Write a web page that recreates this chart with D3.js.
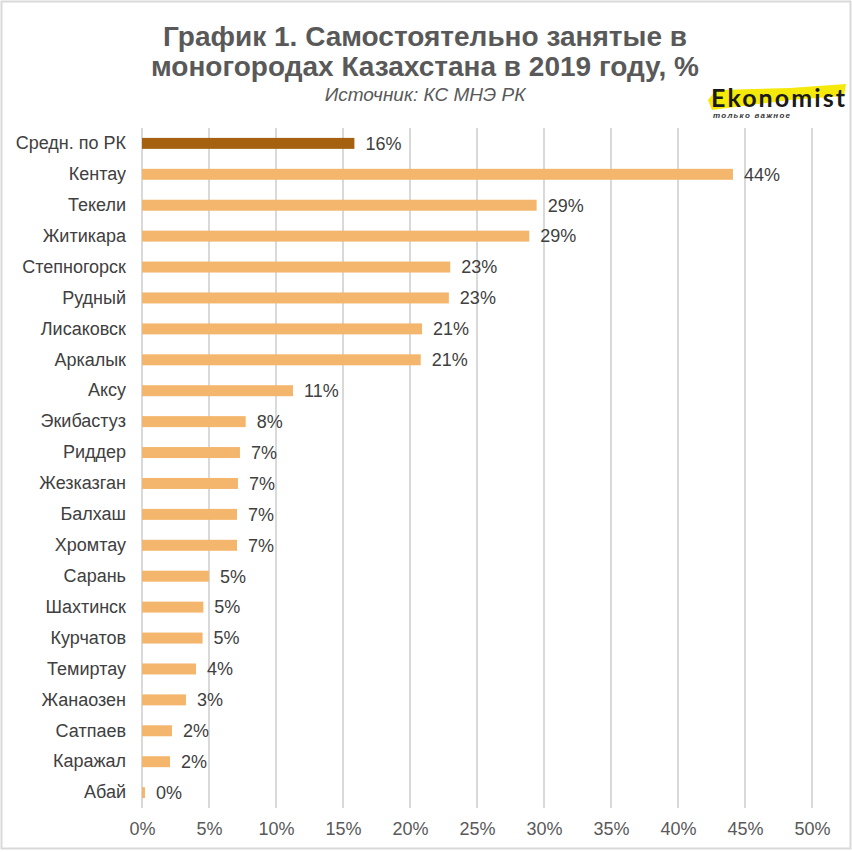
<!DOCTYPE html>
<html><head><meta charset="utf-8">
<script src="https://cdn.jsdelivr.net/npm/d3@7"></script>
<style>body{margin:0;background:#fff;font-family:"Liberation Sans",Arial,sans-serif;}</style>
</head><body>
<svg id="chart" width="852" height="852"></svg>
<script>
const categories = ["Средн. по РК","Кентау","Текели","Житикара","Степногорск","Рудный","Лисаковск","Аркалык","Аксу","Экибастуз","Риддер","Жезказган","Балхаш","Хромтау","Сарань","Шахтинск","Курчатов","Темиртау","Жанаозен","Сатпаев","Каражал","Абай"];
const values = [15.85,44.1,29.45,28.9,23.0,22.9,20.9,20.8,11.27,7.74,7.31,7.16,7.09,7.09,5.0,4.58,4.52,4.03,3.28,2.24,2.09,0.22];
const tickValues = [0,5,10,15,20,25,30,35,40,45,50];
const title = ["График 1. Самостоятельно занятые в","моногородах Казахстана в 2019 году, %"];
const subtitle = "Источник: КС МНЭ РК";

const svg = d3.select("#chart");
svg.append("rect").attr("x",1.5).attr("y",1.5).attr("width",849).attr("height",847)
  .attr("fill","#fff").attr("stroke","#d9d9d9").attr("stroke-width",2);

const x = d3.scaleLinear().domain([0,50]).range([142,812]);
const y = d3.scaleBand().domain(categories).range([128,808]).paddingInner(0.645).paddingOuter(0.32);

// gridlines
svg.append("g").selectAll("line").data(tickValues).join("line")
  .attr("x1",d=>x(d)).attr("x2",d=>x(d)).attr("y1",128).attr("y2",808)
  .attr("stroke","#d9d9d9").attr("stroke-width",2);

// x axis labels
const xAxis = d3.axisBottom(x).tickValues(tickValues).tickFormat(d=>d+"%").tickSize(0).tickPadding(0);
const gx = svg.append("g").attr("transform","translate(0,829)").call(xAxis);
gx.select(".domain").remove();
gx.selectAll("text").attr("font-size",18).attr("fill","#595959").attr("font-family","Liberation Sans, Arial, sans-serif").attr("dy","0.35em");

// y axis labels
const yAxis = d3.axisLeft(y).tickSize(0).tickPadding(0);
const gy = svg.append("g").attr("transform","translate(126,0)").call(yAxis);
gy.select(".domain").remove();
gy.selectAll("text").attr("font-size",18).attr("fill","#404040").attr("font-family","Liberation Sans, Arial, sans-serif");

// bars
const data = categories.map((c,i)=>({c,v:values[i],i}));
svg.append("g").selectAll("rect").data(data).join("rect")
  .attr("x",x(0)).attr("y",d=>y(d.c)).attr("width",d=>x(d.v)-x(0)).attr("height",y.bandwidth())
  .attr("fill",d=>d.i===0?"#a5610f":"#f4b66d");

// value labels
svg.append("g").selectAll("text").data(data).join("text")
  .attr("x",d=>x(d.v)+11).attr("y",d=>y(d.c)+y.bandwidth()/2).attr("dy","0.35em")
  .attr("font-size",18).attr("fill","#404040")
  .text(d=>Math.round(d.v)+"%");

// title
svg.append("g").selectAll("text").data(title).join("text")
  .attr("x",425).attr("y",(d,i)=>46+i*30).attr("text-anchor","middle")
  .attr("font-size",28).attr("font-weight","bold").attr("fill","#595959")
  .text(d=>d);
svg.append("text").attr("x",425).attr("y",101).attr("text-anchor","middle")
  .attr("font-size",19).attr("font-style","italic").attr("fill","#595959").text(subtitle);

// logo
const logo = svg.append("g");
logo.append("path").attr("d","M708,100 L716,90 L790,88 L846,84 L844,96 L790,100 L712,110 Z").attr("fill","#f5e90b");
logo.append("text").attr("x",711).attr("y",107).attr("font-size",25).attr("font-weight","bold")
  .attr("fill","#1a1a1a").attr("font-family","Lato, Liberation Sans, sans-serif").attr("textLength",134).text("Ekonomist");
logo.append("text").attr("x",713).attr("y",118).attr("font-size",8).attr("font-style","italic").attr("font-weight","bold")
  .attr("fill","#333").attr("textLength",77).text("только важное");
</script>
</body></html>
